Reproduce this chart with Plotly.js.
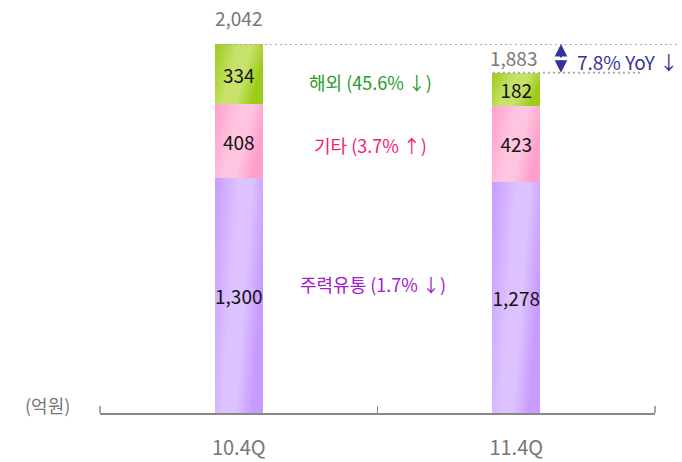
<!DOCTYPE html>
<html>
<head>
<meta charset="utf-8">
<script src="https://cdn.plot.ly/plotly-3.0.1.min.js"></script>
<style>html,body{margin:0;padding:0;background:#fff;}#chart{width:682px;height:462px;}</style>
</head>
<body>
<div id="chart"></div>
<script>
const categories = ['10.4Q', '11.4Q'];
const mainRetail = [1300, 1278];   // 주력유통
const others = [408, 423];         // 기타
const overseas = [334, 182];       // 해외
const totals = [2042, 1883];
const segmentLabels = ['주력유통 (1.7% ↓)', '기타 (3.7% ↑)', '해외 (45.6% ↓)'];
const yoyLabel = '7.8% YoY ↓';
const unitLabel = '(억원)';

const FONT = '"Noto Sans CJK KR", "Noto Sans", sans-serif';
const fmt = v => v.toLocaleString('en-US');

function barTrace(vals, color, name) {
  return {
    type: 'bar', x: categories, y: vals, name: name,
    width: 0.173,
    marker: {color: color, line: {width: 0}},
    text: vals.map(fmt), textposition: 'inside', insidetextanchor: 'middle',
    textangle: 0, constraintext: 'none',
    textfont: {family: FONT, size: 19, color: '#111'},
    hoverinfo: 'skip'
  };
}

const data = [
  barTrace(mainRetail, '#d3b0ff', segmentLabels[0]),
  barTrace(others, '#ffb5d6', segmentLabels[1]),
  barTrace(overseas, '#b6da45', segmentLabels[2])
];

const layout = {
  width: 682, height: 462,
  margin: {l: 100, r: 27, t: 44, b: 49},
  paper_bgcolor: '#fff', plot_bgcolor: '#fff',
  barmode: 'stack', showlegend: false,
  font: {family: FONT, color: '#777'},
  xaxis: {
    type: 'category', showline: true, linecolor: '#888', linewidth: 1.5,
    ticks: 'inside', tickson: 'boundaries', ticklen: 7, tickcolor: '#888', tickwidth: 1.5,
    tickfont: {family: FONT, size: 20, color: '#777'},
    ticklabelstandoff: 16,
    showgrid: false, zeroline: false, fixedrange: true
  },
  yaxis: {range: [0, 2042], visible: false, showgrid: false, zeroline: false, fixedrange: true},
  shapes: [
    {type: 'line', xref: 'paper', yref: 'y', x0: 0.207, x1: 1.045, y0: totals[0], y1: totals[0],
     line: {color: '#aaa', width: 2.2, dash: '2px,3px'}},
    {type: 'line', xref: 'paper', yref: 'y', x0: 0.708, x1: 0.977, y0: totals[1], y1: totals[1],
     line: {color: '#aaa', width: 2.2, dash: '2px,3px'}},
    {type: 'line', xref: 'paper', yref: 'paper', x0: 0, x1: 0, y0: 0, y1: 0.019,
     line: {color: '#888', width: 1.5}},
    {type: 'line', xref: 'paper', yref: 'paper', x0: 1, x1: 1, y0: 0, y1: 0.019,
     line: {color: '#888', width: 1.5}}
  ],
  annotations: [
    {x: categories[0], y: totals[0], xref: 'x', yref: 'y', text: fmt(totals[0]), showarrow: false,
     xanchor: 'center', yanchor: 'bottom', yshift: 11, font: {family: FONT, size: 19, color: '#777'}},
    {x: categories[1], y: totals[1], xref: 'x', yref: 'y', text: fmt(totals[1]), showarrow: false,
     xanchor: 'center', yanchor: 'bottom', yshift: 0, xshift: -3, font: {family: FONT, size: 19, color: '#777'}},
    {x: 0.4865, y: 0.897, xref: 'paper', yref: 'paper', text: segmentLabels[2], showarrow: false,
     xanchor: 'center', yanchor: 'middle', font: {family: FONT, size: 18, color: '#2a9a2a'}},
    {x: 0.4865, y: 0.726, xref: 'paper', yref: 'paper', text: segmentLabels[1], showarrow: false,
     xanchor: 'center', yanchor: 'middle', font: {family: FONT, size: 18, color: '#ee2277'}},
    {x: 0.4919, y: 0.35, xref: 'paper', yref: 'paper', text: segmentLabels[0], showarrow: false,
     xanchor: 'center', yanchor: 'middle', font: {family: FONT, size: 18, color: '#a020cc'}},
    {x: -0.094, y: 0.022, xref: 'paper', yref: 'paper', text: unitLabel, showarrow: false,
     xanchor: 'center', yanchor: 'middle', font: {family: FONT, size: 18, color: '#777'}},
    {x: 0.8306, y: totals[0], xref: 'paper', yref: 'y', ax: 0, ay: 15, axref: 'pixel', ayref: 'pixel',
     text: '', showarrow: true, arrowhead: 2, arrowsize: 1.4, arrowwidth: 1.8, arrowcolor: '#333399', standoff: 0},
    {x: 0.8306, y: totals[1], xref: 'paper', yref: 'y', ax: 0, ay: -14, axref: 'pixel', ayref: 'pixel',
     text: '', showarrow: true, arrowhead: 2, arrowsize: 1.4, arrowwidth: 1.8, arrowcolor: '#333399', standoff: 0},
    {x: 0.856, y: (totals[0] + totals[1]) / 2, xref: 'paper', yref: 'y', text: yoyLabel, showarrow: false,
     xanchor: 'left', yanchor: 'middle', yshift: -3, font: {family: FONT, size: 19, color: '#333399'}}
  ]
};

Plotly.newPlot('chart', data, layout, {displayModeBar: false, staticPlot: true}).then(function (gd) {
  // diagonal gradients on the bar fills
  const svg = gd.querySelector('svg.main-svg');
  const ns = 'http://www.w3.org/2000/svg';
  let defs = svg.querySelector('defs');
  if (!defs) { defs = document.createElementNS(ns, 'defs'); svg.insertBefore(defs, svg.firstChild); }
  const grads = [
    ['gPurple', '#c89cff', '#dcc2ff'],
    ['gPink', '#ff9fcb', '#ffc4df'],
    ['gGreen', '#9ccb18', '#c6e26a']
  ];
  grads.forEach(function (g) {
    const lg = document.createElementNS(ns, 'linearGradient');
    lg.setAttribute('id', g[0]);
    lg.setAttribute('x1', '0'); lg.setAttribute('y1', '0');
    lg.setAttribute('x2', '1'); lg.setAttribute('y2', '0.35');
    [[0, g[1]], [0.45, g[2]], [0.7, g[2]], [1, g[1]]].forEach(function (s) {
      const st = document.createElementNS(ns, 'stop');
      st.setAttribute('offset', s[0]); st.setAttribute('stop-color', s[1]);
      lg.appendChild(st);
    });
    defs.appendChild(lg);
  });
  const traces = gd.querySelectorAll('g.trace.bars');
  traces.forEach(function (t, i) {
    t.querySelectorAll('path').forEach(function (p) {
      p.style.fill = 'url(#' + grads[i][0] + ')';
    });
  });
});
</script>
</body>
</html>
